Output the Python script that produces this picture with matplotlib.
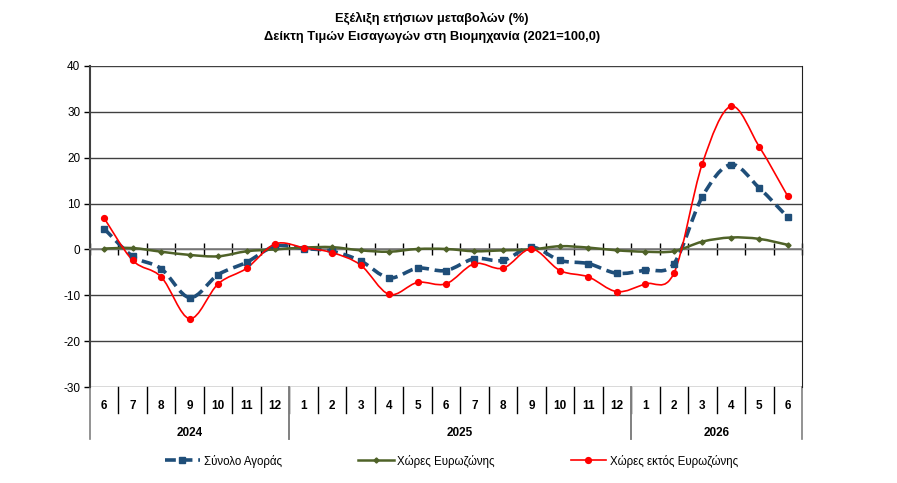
import matplotlib
matplotlib.use('Agg')
import matplotlib.pyplot as plt
import numpy as np
from matplotlib.path import Path
from matplotlib.patches import PathPatch
from matplotlib.lines import Line2D
import matplotlib.transforms as mtransforms

plt.rcParams['font.family'] = ['Liberation Sans', 'DejaVu Sans']
plt.rcParams['axes.unicode_minus'] = False

months = ['6', '7', '8', '9', '10', '11', '12',
          '1', '2', '3', '4', '5', '6', '7', '8', '9', '10', '11', '12',
          '1', '2', '3', '4', '5', '6']
years = ['2024', '2025', '2026']
year_span = [(0, 7), (7, 19), (19, 25)]

total = [4.5, -1.5, -4.2, -10.5, -5.5, -2.8, 0.7, 0.2, -0.4, -2.5,
         -6.2, -4.1, -4.6, -2.0, -2.4, 0.5, -2.4, -3.1, -5.2, -4.5,
         -3.1, 11.5, 18.5, 13.4, 7.0]
euro = [0.2, 0.3, -0.5, -1.2, -1.5, -0.4, 0.0, 0.4, 0.5, -0.2,
        -0.5, 0.1, 0.1, -0.4, -0.2, 0.0, 0.7, 0.4, -0.2, -0.5,
        -0.4, 1.7, 2.6, 2.3, 1.0]
non_euro = [6.8, -2.4, -6.0, -15.1, -7.5, -4.1, 1.2, 0.4, -0.7, -3.4,
            -9.8, -7.2, -7.5, -3.1, -4.1, 0.1, -4.6, -6.0, -9.2, -7.5,
            -5.2, 18.7, 31.2, 22.4, 11.6]

labels = ['Σύνολο Αγοράς', 'Χώρες Ευρωζώνης', 'Χώρες εκτός Ευρωζώνης']


def smooth_path(x, y):
    # Excel-like smoothed line: cubic bezier through every point
    pts = np.column_stack([x, y]).astype(float)
    n = len(pts)
    verts = [pts[0]]
    codes = [Path.MOVETO]
    for i in range(n - 1):
        p0 = pts[i - 1] if i > 0 else pts[i]
        p1 = pts[i]
        p2 = pts[i + 1]
        p3 = pts[i + 2] if i + 2 < n else pts[i + 1]
        c1 = p1 + (p2 - p0) / 6.0
        c2 = p2 - (p3 - p1) / 6.0
        verts += [c1, c2, p2]
        codes += [Path.CURVE4] * 3
    return Path(verts, codes)


fig = plt.figure(figsize=(8.97, 4.83), dpi=100)
ax = fig.add_axes([90 / 897, 1 - 387 / 483, 712 / 897, 321 / 483])

x = np.arange(len(months))
series = [
    (total, '#1F4E79', (0, (3, 1.6)), 2.6, 's', 4.2, labels[0]),
    (euro, '#4F6228', '-', 1.8, 'D', 2.6, labels[1]),
    (non_euro, '#FF0000', '-', 1.2, 'o', 4.2, labels[2]),
]
handles = []
for vals, col, ls, lw, mk, ms, lab in series:
    patch = PathPatch(smooth_path(x, vals), facecolor='none', edgecolor=col,
                      lw=lw, ls=ls, zorder=3, capstyle='butt')
    ax.add_patch(patch)
    ax.plot(x, vals, ls='none', marker=mk, ms=ms, color=col, zorder=4)
    handles.append(Line2D([], [], color=col, lw=lw, ls=ls, marker=mk, ms=ms))

ax.set_xlim(-0.5, len(months) - 0.5)
ax.set_ylim(-30, 40)
ax.set_yticks(np.arange(-30, 41, 10))
ax.yaxis.grid(True, color='#000000', lw=1.0, alpha=0.75)
ax.set_axisbelow(True)
ax.tick_params(axis='y', length=4, width=1, labelsize=8.5, pad=3)

ax.spines['top'].set_visible(False)
ax.spines['left'].set_linewidth(1.5)
ax.spines['left'].set_color('#404040')
ax.spines['right'].set_color('#202020')
ax.spines['bottom'].set_position(('data', 0))
ax.spines['bottom'].set_color('#808080')
ax.spines['bottom'].set_linewidth(1.2)
ax.set_xticks(np.arange(-0.5, len(months) + 0.5, 1))
ax.set_xticklabels([])
ax.tick_params(axis='x', direction='inout', length=9, width=1, color='#000000')

# multi-level category labels below the plot
tr = mtransforms.blended_transform_factory(ax.transData, ax.transAxes)
for i, m in enumerate(months):
    ax.text(i, -0.058, m, transform=tr, ha='center', va='center',
            fontsize=8.5, fontweight='bold')
for k in range(1, len(months)):
    ax.plot([k - 0.5, k - 0.5], [0, -0.081], transform=tr, color='#000000',
            lw=1, clip_on=False)
for (a, b), yr in zip(year_span, years):
    ax.text((a + b - 1) / 2, -0.143, yr, transform=tr, ha='center',
            va='center', fontsize=8.5, fontweight='bold')
    for edge in (a, b):
        ax.plot([edge - 0.5, edge - 0.5], [0, -0.162], transform=tr,
                color='#808080', lw=1.2, clip_on=False)

fig.text(432 / 897, 1 - 18 / 483, 'Εξέλιξη ετήσιων μεταβολών (%)', ha='center',
         va='center', fontsize=9.3, fontweight='bold')
fig.text(432 / 897, 1 - 37 / 483, 'Δείκτη Τιμών Εισαγωγών στη Βιομηχανία (2021=100,0)',
         ha='center', va='center', fontsize=9.3, fontweight='bold')

fig.legend(handles, labels, loc='center', bbox_to_anchor=(0.503, 1 - 461 / 483),
           ncol=3, frameon=False, fontsize=8.3, handlelength=3.1,
           columnspacing=6.6, handletextpad=0.3)

fig.savefig('out.png', dpi=100)
